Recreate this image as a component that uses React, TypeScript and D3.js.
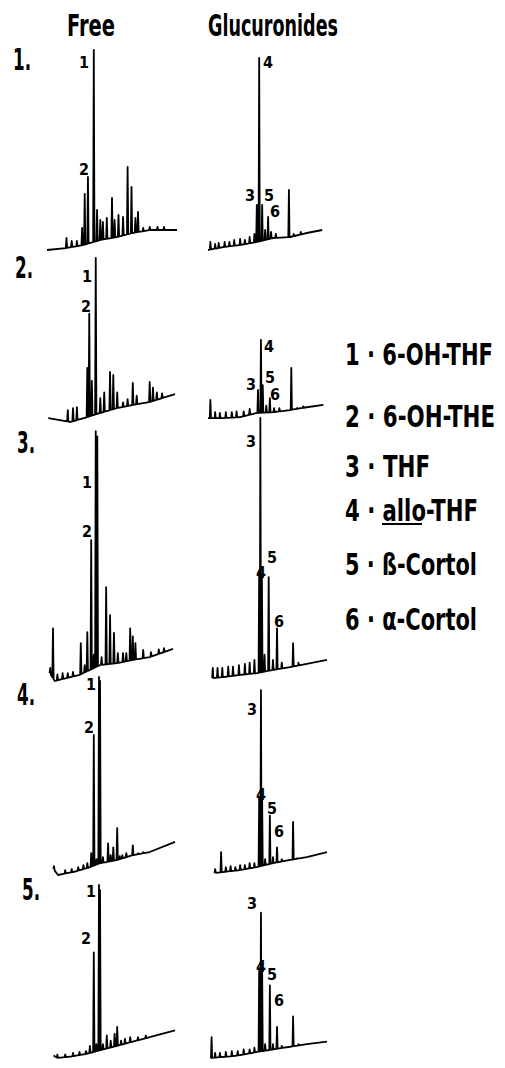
import * as d3 from "d3";

// chromatograms: [retention (0-100), signal (0-100)]
// baseline knots of each trace, peaks as apex values
const free1Base = [[0, 0], [15, 1], [28, 2.5], [41, 5], [54, 6.5], [66, 8.5], [79, 10], [100, 10]];
const free1Peaks = [[15, 6], [19, 4.5], [23, 4.5], [27, 11], [29, 28], [31.5, 36.5], [36, 100], [38.5, 20], [41, 15], [43, 14], [46, 16], [50, 26], [52, 15], [55, 17.5], [58.5, 16.5], [62, 41.5], [65, 31.5], [68, 16], [70, 19], [74, 11], [79, 11.5], [85, 11.5], [90, 11.5]];
const gluc1Base = [[0, 0], [13, 1.5], [27, 2.5], [41, 4], [55, 6], [69, 6.5], [83, 8.5], [96, 10]];
const gluc1Peaks = [[2, 4], [6, 3], [9, 3.5], [14, 4], [18, 4], [22, 5], [27, 5.5], [31, 5], [35, 6.5], [39, 8], [41, 22.5], [43, 96], [45.5, 22.5], [48, 10], [50.5, 16.5], [53, 9], [57, 8], [68, 30], [72, 8], [78, 9]];

const free2Base = [[1, 2.4], [18, 0], [31, 3], [41, 5.5], [54, 8.5], [66, 10.4], [79, 12.2], [98.5, 17]];
const free2Peaks = [[16, 7.3], [20, 8.5], [23, 9], [31, 33], [32.5, 66], [34.5, 25], [37.5, 100], [41, 14.6], [44, 18], [48.5, 30.5], [51, 28.7], [54, 18], [58.5, 12], [62, 14], [66, 23.8], [69, 16], [79, 24.4], [81.5, 21], [84.5, 18], [88.5, 17.5]];
const gluc2Base = [[0, 2.4], [13, 2.4], [27, 3], [41, 5.5], [55, 6], [69, 7.3], [83, 9], [97, 10.4]];
const gluc2Peaks = [[2, 13.4], [6, 6], [10, 5.5], [15, 6], [20, 6], [24, 6.5], [30, 6.5], [35, 8], [42, 19.5], [44.5, 50], [46, 22.5], [49, 10], [52, 14.6], [55.5, 8.5], [60, 8.5], [70, 33], [75, 8.5], [80, 9.5]];

const free3Base = [[2, 3], [6, 0], [15, 1.1], [25, 2.3], [33, 4.2], [41, 6.1], [54, 6.8], [66, 8], [79, 9.1], [97, 12.2]];
const free3Peaks = [[2.5, 5], [4.6, 20], [8, 2.5], [12, 3], [16, 3], [20, 3.5], [26, 14.4], [29, 6], [31, 18.6], [34, 53.6], [36, 10], [37.5, 95], [38.7, 93], [42, 9.1], [45.5, 35.7], [48.5, 25], [51.5, 18.3], [54.5, 10.6], [58.5, 10.6], [61, 10.6], [64, 20], [66, 17], [68, 14.4], [74, 11.8], [80, 11], [86, 12], [90, 12.5]];
const gluc3Base = [[4, 1.1], [12.6, 1.5], [27, 2.3], [41, 3], [54.6, 4.2], [69, 5.3], [83, 6.5], [100, 8]];
const gluc3Peaks = [[4, 5], [8, 5], [12, 5], [17, 5.5], [21, 5.5], [26, 6], [31, 6.5], [35, 7], [39, 8], [43, 42], [44, 100], [45.3, 40], [47.5, 10], [51, 39.5], [54.6, 8], [58, 20], [62, 7], [71.5, 14.4], [76, 7]];

const free4Base = [[5, 3], [8.5, 0], [20, 1.5], [31, 3.5], [41, 6], [54, 7.6], [66, 10], [79, 11.6], [98.5, 16.7]];
const free4Peaks = [[5.4, 4.5], [14, 2.5], [19, 3], [24, 4], [28, 5], [31, 6], [34, 11], [36, 70.7], [38, 8], [40, 100], [40.8, 98], [43, 9], [47, 16], [49, 10], [51, 14], [54, 23.7], [56, 9.5], [58, 10], [61, 11], [66, 15], [70, 11], [74, 11.5]];
const gluc4Base = [[6, 1], [12.6, 1.5], [27, 2.5], [41, 4], [54.6, 6], [69, 7.6], [83, 9], [100, 11.6]];
const gluc4Peaks = [[6, 3], [11, 11.6], [15, 4], [19, 4.5], [23, 4], [27, 5], [31, 5], [35, 6], [39, 6], [43, 39], [44.5, 93.4], [45.5, 38], [48, 8], [52, 30], [54.6, 9], [58, 14], [62, 8], [71.5, 26.8], [75, 8.5]];

const free5Base = [[5, 1.5], [8, 0], [20, 1], [31, 2.5], [41, 4.5], [54, 7], [66, 9.5], [79, 12], [98.5, 16]];
const free5Peaks = [[8, 2], [14, 2], [20, 3], [25, 3.5], [30, 4], [33, 7], [36, 61], [38, 8], [40, 100], [40.8, 97], [43, 8], [46, 13], [49, 10], [52, 14], [54, 18], [57, 10], [60, 11], [64, 12], [70, 12], [76, 13]];
const gluc5Base = [[2, 0], [10, 0.5], [20, 1], [30, 2], [41, 3.5], [55, 5], [69, 6.5], [83, 8], [100, 9.5]];
const gluc5Peaks = [[3, 12], [6, 3], [10, 3], [15, 3.5], [20, 4], [25, 4], [30, 5], [35, 5], [39, 6], [43, 52], [44.5, 84], [45.5, 50], [48, 8], [52, 42], [54.6, 8], [58, 18], [62, 7], [71.5, 24], [76, 8]];

// peak labels: [text, retention, signal, anchor]
const free1Labels = [["1", 33, 91, "end"], ["2", 33, 37.5, "end"]];
const gluc1Labels = [["4", 44.5, 91, "start"], ["3", 40.3, 24.5, "end"], ["5", 45.4, 24.5, "start"], ["6", 50.4, 16.5, "start"]];
const free2Labels = [["1", 35.4, 85.4, "end"], ["2", 34.6, 67, "end"]];
const gluc2Labels = [["4", 45.4, 42.7, "start"], ["3", 41.2, 19.5, "end"], ["5", 46.2, 23.8, "start"], ["6", 50.4, 13.4, "start"]];
const free3Labels = [["1", 35.4, 73.4, "end"], ["2", 35.4, 54.8, "end"]];
const gluc3Labels = [["3", 41.2, 89, "end"], ["4", 44.5, 39, "middle"], ["5", 48, 45, "start"], ["6", 53.8, 20.5, "start"]];
const free4Labels = [["1", 38.5, 93.4, "end"], ["2", 37, 71.7, "end"]];
const gluc4Labels = [["3", 42, 81, "end"], ["4", 44.5, 38, "middle"], ["5", 48, 31, "start"], ["6", 53.8, 19, "start"]];
const free5Labels = [["1", 38.5, 93, "end"], ["2", 34.6, 66, "end"]];
const gluc5Labels = [["3", 42, 86, "end"], ["4", 44.5, 50, "middle"], ["5", 48, 45, "start"], ["6", 53.8, 30, "start"]];

const sampleNames = ["1.", "2.", "3.", "4.", "5."];
const columnTitles = ["Free", "Glucuronides"];
const legendNums = ["1", "2", "3", "4", "5", "6"];
const legendNames = ["6-OH-THF", "6-OH-THE", "THF", "allo-THF", "ß-Cortol", "α-Cortol"];

const rows = [
  { free: [free1Base, free1Peaks, free1Labels], gluc: [gluc1Base, gluc1Peaks, gluc1Labels] },
  { free: [free2Base, free2Peaks, free2Labels], gluc: [gluc2Base, gluc2Peaks, gluc2Labels] },
  { free: [free3Base, free3Peaks, free3Labels], gluc: [gluc3Base, gluc3Peaks, gluc3Labels] },
  { free: [free4Base, free4Peaks, free4Labels], gluc: [gluc4Base, gluc4Peaks, gluc4Labels] },
  { free: [free5Base, free5Peaks, free5Labels], gluc: [gluc5Base, gluc5Peaks, gluc5Labels] },
];

// layout
const W = 505;
const H = 1068;
const FONT = "'DejaVu Sans Condensed', 'Liberation Sans Narrow', sans-serif";
const freeX: [number, number] = [47, 177];
const glucX: [number, number] = [208, 327];
const rowY: [number, number][] = [[250, 50], [422, 258], [681, 418], [875, 677], [1058, 885]];
const numPos = [[13, 70], [15, 278], [17, 453], [17, 705], [22, 900]];
const legendX = 345;
const legendY = [365, 427, 477, 521, 575, 630];
const legendLen = [148, 150, 85, 133, 132, 132];
const SQUEEZE = 0.72;

function tracePoints(base: number[][], peaks: number[][], hw: number) {
  const baseAt = d3.scaleLinear()
    .domain(base.map((d) => d[0]))
    .range(base.map((d) => d[1]))
    .clamp(true);
  const sorted = [...peaks].sort((a, b) => a[0] - b[0]);
  const events = [
    ...base.map((d) => ({ t: d[0], s: d[1], peak: false })),
    ...sorted.map((d) => ({ t: d[0], s: d[1], peak: true })),
  ].sort((a, b) => a.t - b.t);
  const pts: [number, number][] = [];
  let last = -Infinity;
  events.forEach((e) => {
    if (!e.peak) {
      const inside = sorted.some((p) => Math.abs(p[0] - e.t) < hw);
      if (!inside && e.t > last) {
        pts.push([e.t, baseAt(e.t)]);
        last = e.t;
      }
      return;
    }
    const l = Math.max(e.t - hw, last);
    if (l > last) pts.push([l, baseAt(l)]);
    pts.push([e.t, e.s]);
    pts.push([e.t + hw, baseAt(e.t + hw)]);
    last = e.t + hw;
  });
  return pts;
}

function Trace({ data, xr, yr }: { data: any[]; xr: [number, number]; yr: [number, number] }) {
  const [base, peaks, labels] = data;
  const x = d3.scaleLinear().domain([0, 100]).range(xr);
  const y = d3.scaleLinear().domain([0, 100]).range(yr);
  const line = d3.line<[number, number]>().x((d) => x(d[0])).y((d) => y(d[1]));
  const pts = tracePoints(base, peaks, 0.5);
  return (
    <g>
      <path d={line(pts) || ""} fill="none" stroke="#000" strokeWidth={1.8} strokeLinejoin="round" />
      {labels.map((l: any[], i: number) => (
        <text
          key={i}
          x={x(l[1]) + (l[3] === "end" ? -1 : l[3] === "start" ? 2 : 0)}
          y={y(l[2])}
          textAnchor={l[3]}
          fontFamily={FONT}
          fontWeight="bold"
          fontSize={16}
        >
          {l[0]}
        </text>
      ))}
    </g>
  );
}

// condensed bold text, squeezed horizontally to the reference width
function Squeezed({ x, y, len, size, children }: { x: number; y: number; len: number; size: number; children: any }) {
  return (
    <text
      transform={`translate(${x},${y}) scale(${SQUEEZE},1)`}
      fontFamily={FONT}
      fontWeight="bold"
      fontSize={size}
      textLength={len / SQUEEZE}
      lengthAdjust="spacingAndGlyphs"
    >
      {children}
    </text>
  );
}

export default function App() {
  return (
    <div style={{ position: "absolute", left: 0, top: 0 }}>
      <svg width={W} height={H} style={{ display: "block", background: "#fff" }}>
        <Squeezed x={67} y={36} len={48} size={30}>{columnTitles[0]}</Squeezed>
        <Squeezed x={208} y={36} len={130} size={30}>{columnTitles[1]}</Squeezed>
        {rows.map((r, i) => (
          <g key={i}>
            <Squeezed x={numPos[i][0]} y={numPos[i][1]} len={18} size={31}>{sampleNames[i]}</Squeezed>
            <Trace data={r.free} xr={freeX} yr={rowY[i]} />
            <Trace data={r.gluc} xr={glucX} yr={rowY[i]} />
          </g>
        ))}
        {legendNums.map((n, i) => (
          <Squeezed key={n} x={legendX} y={legendY[i]} len={legendLen[i]} size={31}>
            {`${n} · ${legendNames[i]}`}
          </Squeezed>
        ))}
        {/* underline of "allo" */}
        <line x1={382} x2={422} y1={524} y2={524} stroke="#000" strokeWidth={2} />
      </svg>
    </div>
  );
}
